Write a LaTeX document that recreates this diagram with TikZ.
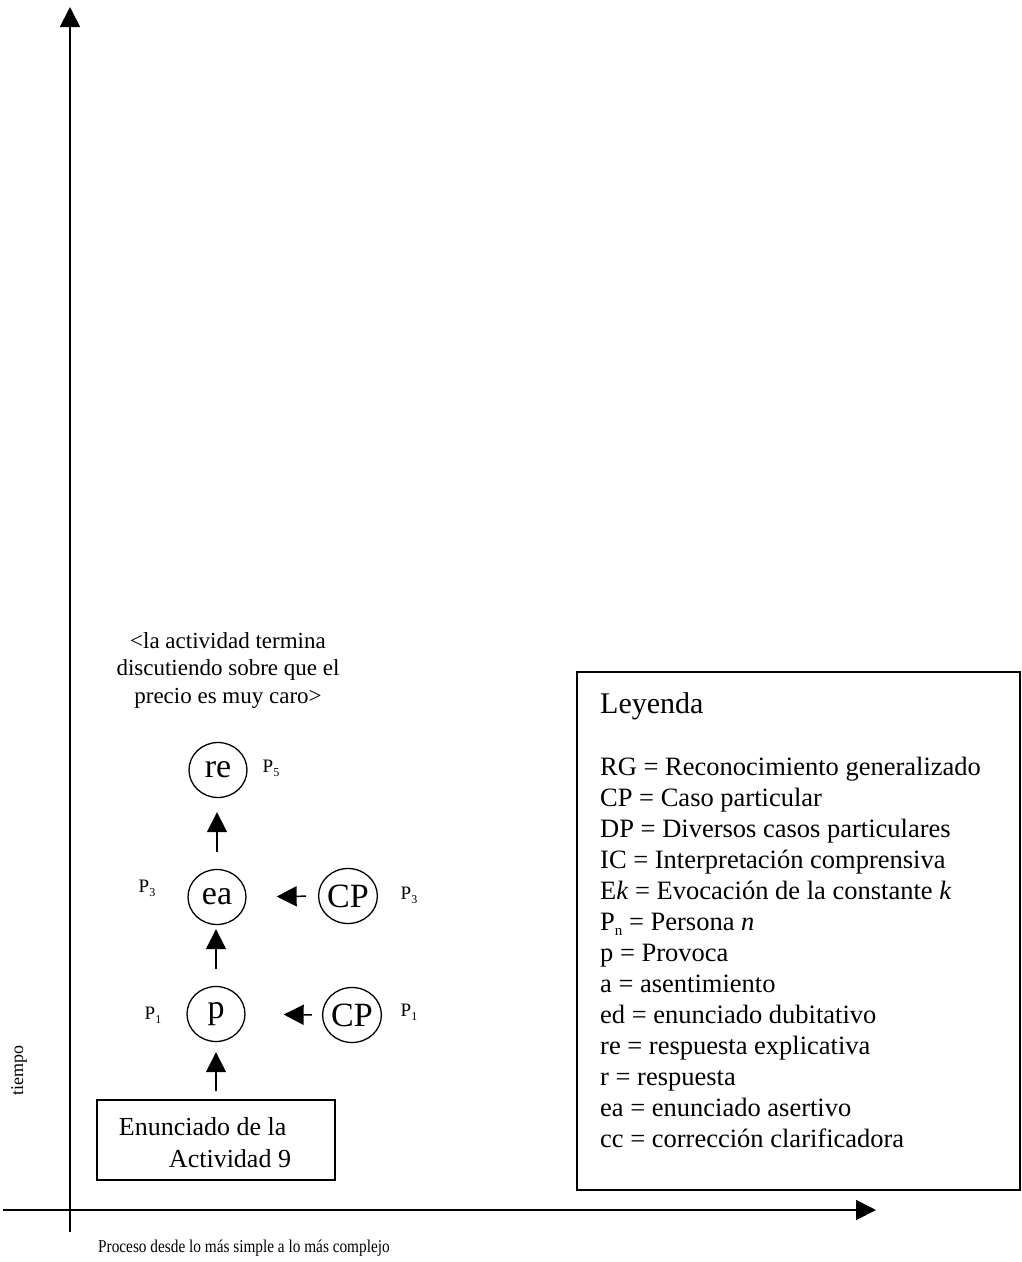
\documentclass[tikz,border=0pt]{standalone}
\usepackage{fontspec}
\usepackage{graphicx}
\setmainfont{Liberation Serif}
\usetikzlibrary{arrows.meta,shapes.geometric}
\newcommand{\fsz}[2]{\fontsize{#1}{#2}\selectfont}
\newcommand{\Plab}[1]{P\raisebox{-0.2em}{\fsz{12}{12}#1}}
\tikzset{
  axis/.style={line width=1.8pt,-{Triangle[length=20pt,width=20pt]}},
  flow/.style={line width=1.5pt,-{Triangle[length=20pt,width=20pt]}},
  bubble/.style={draw,line width=1.3pt,ellipse,minimum width=58pt,minimum height=55pt,inner sep=0pt,font=\fsz{34}{34}},
  plabel/.style={font=\fsz{19}{19},inner sep=0pt},
}
\begin{document}
\begin{tikzpicture}[x=1pt,y=-1pt]
\useasboundingbox (0,0) rectangle (1022,1262);
% axes
\coordinate (vb) at (70,1232);
\coordinate (vt) at (70,7);
\coordinate (hl) at (3,1210);
\coordinate (hr) at (876,1210);
\draw[axis] (vb) -- (vt);
\draw[axis] (hl) -- (hr);
\node[rotate=90,font=\fsz{18}{18},inner sep=0pt] (tiempo) at (19,1070) {tiempo};
\node[font=\fsz{18}{18},inner sep=0pt,anchor=west] (proceso) at (98,1248) {\scalebox{0.85}[1]{Proceso desde lo más simple a lo más complejo}};
% start box
\node[draw,line width=1.3pt,minimum width=238pt,minimum height=80pt,inner sep=0pt] (enun) at (216,1140) {};
\node[align=left,font=\fsz{26}{32},inner sep=0pt] (enuntext) at (205,1143) {Enunciado de la\\\hspace*{50pt}Actividad 9};
% bubbles
\node[bubble] (p) at (216,1014) {p};
\node[bubble] (ea) at (217,897) {ea};
\node[bubble] (re) at (218,770) {re};
\node[bubble] (cp1) at (352,1015) {CP};
\node[bubble] (cp3) at (348,896) {CP};
% labels
\node[plabel] (lp5) at (271,768) {\Plab{5}};
\node[plabel] (lp3a) at (147,888) {\Plab{3}};
\node[plabel] (lp3b) at (409,895) {\Plab{3}};
\node[plabel] (lp1a) at (153,1015) {\Plab{1}};
\node[plabel] (lp1b) at (409,1012) {\Plab{1}};
% flows
\draw[flow,shorten <=8pt,shorten >=10pt] (enun.north) -- (enun.north |- p.south);
\draw[flow,shorten <=17pt,shorten >=4pt] (p.north) -- (p.north |- ea.south);
\draw[flow,shorten <=17pt,shorten >=14pt] (ea.north) -- (ea.north |- re.south);
\draw[flow,shorten <=10pt,shorten >=38pt] (cp1.west) -- (p.east);
\draw[flow,shorten <=12pt,shorten >=30pt] (cp3.west) -- (ea.east);
% top note
\node[align=center,font=\fsz{23}{27.5},inner sep=0pt] (note) at (228,670) {<la actividad termina\\discutiendo sobre que el\\precio es muy caro>};
% legend
\node[draw,line width=1.3pt,minimum width=443pt,minimum height=518pt,inner sep=0pt] (legbox) at (798.5,931) {};
\node[font=\fsz{30}{30},inner sep=0pt,anchor=base west] (legtitle) at (600,713) {Leyenda};
\node[align=left,font=\fsz{26.5}{31},inner sep=0pt,anchor=north west] (legitems) at (600,757) {RG = Reconocimiento generalizado\\
CP = Caso particular\\
DP = Diversos casos particulares\\
IC = Interpretación comprensiva\\
E\textit{k} = Evocación de la constante \textit{k}\\
P\raisebox{-0.18em}{\fsz{15}{15}n} = Persona \textit{n}\\
p = Provoca\\
a = asentimiento\\
ed = enunciado dubitativo\\
re = respuesta explicativa\\
r = respuesta\\
ea = enunciado asertivo\\
cc = corrección clarificadora};
\end{tikzpicture}
\end{document}
